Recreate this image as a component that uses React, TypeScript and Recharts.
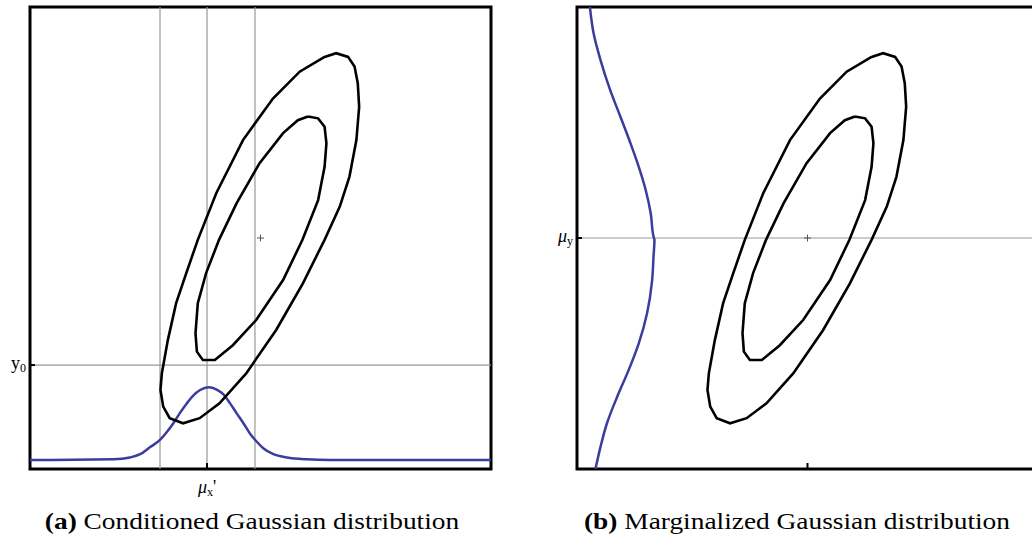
import React from 'react';
import { ComposedChart, Scatter, Line, XAxis, YAxis, ReferenceLine, ReferenceArea } from 'recharts';

// 1- and 2-sigma contours of the joint density (x, y both on a 0..10 scale)
const outerContour = [
  { x: 6.39, y: 8.92 }, { x: 6.64, y: 9.0 }, { x: 6.9, y: 8.92 }, { x: 7.04, y: 8.71 },
  { x: 7.11, y: 8.35 }, { x: 7.14, y: 7.84 }, { x: 7.08, y: 7.12 }, { x: 6.93, y: 6.33 },
  { x: 6.72, y: 5.68 }, { x: 6.39, y: 4.96 }, { x: 5.92, y: 4.02 }, { x: 5.34, y: 3.01 },
  { x: 4.69, y: 2.07 }, { x: 4.11, y: 1.42 }, { x: 3.68, y: 1.1 }, { x: 3.32, y: 0.99 },
  { x: 3.03, y: 1.1 }, { x: 2.89, y: 1.35 }, { x: 2.83, y: 1.71 }, { x: 2.86, y: 2.07 },
  { x: 2.99, y: 2.79 }, { x: 3.17, y: 3.59 }, { x: 3.39, y: 4.24 }, { x: 3.64, y: 4.96 },
  { x: 4.04, y: 5.97 }, { x: 4.62, y: 7.12 }, { x: 5.27, y: 8.02 }, { x: 5.85, y: 8.6 },
  { x: 6.39, y: 8.92 },
];

const innerContour = [
  { x: 6.03, y: 7.63 }, { x: 6.25, y: 7.59 }, { x: 6.39, y: 7.41 }, { x: 6.43, y: 7.05 },
  { x: 6.39, y: 6.54 }, { x: 6.25, y: 5.82 }, { x: 5.91, y: 4.96 }, { x: 5.49, y: 4.09 },
  { x: 4.91, y: 3.23 }, { x: 4.4, y: 2.68 }, { x: 4.01, y: 2.36 }, { x: 3.75, y: 2.36 },
  { x: 3.62, y: 2.54 }, { x: 3.59, y: 2.94 }, { x: 3.64, y: 3.59 }, { x: 3.82, y: 4.24 },
  { x: 4.1, y: 4.96 }, { x: 4.48, y: 5.75 }, { x: 4.98, y: 6.62 }, { x: 5.49, y: 7.27 },
  { x: 5.81, y: 7.55 }, { x: 6.03, y: 7.63 },
];

// p(x | y = y0), drawn along the bottom of panel (a)
const conditionedPdf = [
  { x: 0, y: 0.195 }, { x: 1.81, y: 0.21 }, { x: 2.17, y: 0.25 }, { x: 2.39, y: 0.32 },
  { x: 2.6, y: 0.47 }, { x: 2.82, y: 0.63 }, { x: 2.96, y: 0.79 }, { x: 3.11, y: 0.99 },
  { x: 3.25, y: 1.21 }, { x: 3.4, y: 1.42 }, { x: 3.54, y: 1.59 }, { x: 3.69, y: 1.71 },
  { x: 3.87, y: 1.77 }, { x: 4.05, y: 1.72 }, { x: 4.19, y: 1.62 }, { x: 4.34, y: 1.42 },
  { x: 4.48, y: 1.21 }, { x: 4.63, y: 0.99 }, { x: 4.77, y: 0.77 }, { x: 4.92, y: 0.59 },
  { x: 5.06, y: 0.45 }, { x: 5.28, y: 0.32 }, { x: 5.57, y: 0.25 }, { x: 6.0, y: 0.21 },
  { x: 6.51, y: 0.195 }, { x: 10, y: 0.195 },
];

// p(y), drawn sideways along the left edge of panel (b)
const marginalPdf = [
  { x: 0.28, y: 10 }, { x: 0.36, y: 9.43 }, { x: 0.51, y: 8.85 }, { x: 0.72, y: 8.2 },
  { x: 0.94, y: 7.63 }, { x: 1.16, y: 7.05 }, { x: 1.34, y: 6.54 }, { x: 1.49, y: 6.04 },
  { x: 1.6, y: 5.53 }, { x: 1.66, y: 5.03 }, { x: 1.68, y: 4.96 }, { x: 1.66, y: 4.6 },
  { x: 1.63, y: 4.09 }, { x: 1.52, y: 3.37 }, { x: 1.34, y: 2.72 }, { x: 1.12, y: 2.14 },
  { x: 0.87, y: 1.56 }, { x: 0.65, y: 0.99 }, { x: 0.51, y: 0.48 }, { x: 0.4, y: 0 },
];

const mean = [{ x: 5, y: 5 }];
const condGuidesX = [2.82, 3.84, 4.88];
const muXCond = 3.84;
const yCond = 2.25;
const muY = 5;

const serif = '"Liberation Serif", "DejaVu Serif", serif';
const blue = '#3c3c9e';
const W = 520;
const H = 537;
// axes take 1px each, so plot area is x 30..491, y 7..469
const margin = { top: 7, right: 29, bottom: 67, left: 29 };

const noMarker = () => <g />;

const PlusMark = (props: any) => {
  const { cx, cy } = props;
  return (
    <g stroke="#555" strokeWidth={1}>
      <line x1={cx - 3.5} x2={cx + 3.5} y1={cy} y2={cy} />
      <line x1={cx} x2={cx} y1={cy - 3.5} y2={cy + 3.5} />
    </g>
  );
};

const bottomTick = (label: React.ReactNode) => (props: any) => (
  <g>
    <line x1={props.x} x2={props.x} y1={props.y} y2={props.y - 6} stroke="#000" strokeWidth={2} />
    {label ? (
      <text x={props.x} y={props.y + 24} textAnchor="middle" fontFamily={serif} fontSize={18} fill="#000">
        {label}
      </text>
    ) : null}
  </g>
);

const leftTick = (label: React.ReactNode) => (props: any) => (
  <g>
    <line x1={props.x} x2={props.x + 5} y1={props.y} y2={props.y} stroke="#000" strokeWidth={2} />
    <text x={props.x - 4} y={props.y + 4} textAnchor="end" fontFamily={serif} fontSize={18} fill="#000">
      {label}
    </text>
  </g>
);

function Panel({ which }: { which: 'a' | 'b' }) {
  const cond = which === 'a';
  return (
    <ComposedChart width={W} height={H} margin={margin}>
      <XAxis
        type="number"
        dataKey="x"
        domain={[0, 10]}
        height={1}
        axisLine={false}
        tickLine={false}
        tickSize={0}
        tickMargin={0}
        interval={0}
        ticks={cond ? [muXCond] : [5]}
        tick={bottomTick(
          cond ? (
            <>
              <tspan fontStyle="italic">μ</tspan>
              <tspan fontSize={12} dy={3}>x</tspan>
              <tspan dy={-3}>'</tspan>
            </>
          ) : null
        )}
        allowDataOverflow
      />
      <YAxis
        type="number"
        dataKey="y"
        domain={[0, 10]}
        width={1}
        axisLine={false}
        tickLine={false}
        tickSize={0}
        tickMargin={0}
        interval={0}
        ticks={cond ? [yCond] : [muY]}
        tick={leftTick(
          cond ? (
            <>
              <tspan>y</tspan>
              <tspan fontSize={12} dy={3}>0</tspan>
            </>
          ) : (
            <>
              <tspan fontStyle="italic">μ</tspan>
              <tspan fontSize={12} dy={3}>y</tspan>
            </>
          )
        )}
        allowDataOverflow
      />
      {cond && condGuidesX.map((v) => (
        <ReferenceLine key={v} x={v} stroke="#999" strokeWidth={1.2} />
      ))}
      <ReferenceLine y={cond ? yCond : muY} stroke="#999" strokeWidth={1.2} />
      <Scatter data={outerContour} line={{ stroke: '#000', strokeWidth: 2.6 }} shape={noMarker} isAnimationActive={false} />
      <Scatter data={innerContour} line={{ stroke: '#000', strokeWidth: 2.6 }} shape={noMarker} isAnimationActive={false} />
      <Line
        data={cond ? conditionedPdf : marginalPdf}
        dataKey="y"
        type={cond ? 'monotoneX' : 'monotoneY'}
        stroke={blue}
        strokeWidth={2.5}
        dot={false}
        activeDot={false}
        isAnimationActive={false}
      />
      <Scatter data={mean} shape={PlusMark} isAnimationActive={false} />
      <ReferenceArea x1={0} x2={10} y1={0} y2={10} fill="none" stroke="#000" strokeWidth={3} ifOverflow="visible" />
    </ComposedChart>
  );
}

const captionStyle: React.CSSProperties = {
  position: 'absolute',
  top: 510,
  width: 500,
  textAlign: 'center',
  fontFamily: serif,
  fontSize: 23,
  lineHeight: '23px',
  color: '#000',
  whiteSpace: 'nowrap',
  transform: 'scaleX(1.19)',
};

export default function App() {
  return (
    <div style={{ position: 'fixed', left: 0, top: 0, width: 1032, height: 537, overflow: 'hidden', background: '#fff' }}>
      <div style={{ position: 'absolute', left: 0, top: 0 }}>
        <Panel which="a" />
      </div>
      <div style={{ position: 'absolute', left: 547, top: 0 }}>
        <Panel which="b" />
      </div>
      <div style={{ ...captionStyle, left: 2 }}>
        <b>(a)</b> Conditioned Gaussian distribution
      </div>
      <div style={{ ...captionStyle, left: 547 }}>
        <b>(b)</b> Marginalized Gaussian distribution
      </div>
    </div>
  );
}
